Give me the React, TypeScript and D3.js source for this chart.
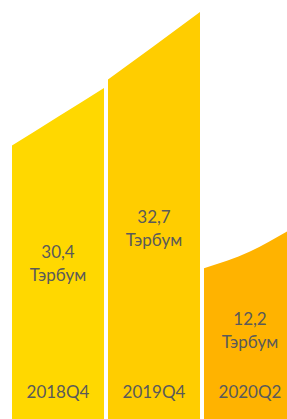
import { useEffect, useRef } from 'react';
import * as d3 from 'd3';

// quarters and their values (in trillion tugrik)
const categories = ['2018Q4', '2019Q4', '2020Q2'];
const values = [30.4, 32.7, 12.2];
const unit = 'Тэрбум';

// decorative top edge of each bar, in the same units as the y axis
const topStart = [26.1, 32.4, 14.4];
const topMid = [28.85, 35.6, 16.0];
const topEnd = [31.6, 38.85, 18.4];

const colors = ['#FFD800', '#FFCD00', '#FFB300'];

const App = () => {
  const svgRef = useRef<SVGSVGElement | null>(null);

  const width = 287;
  const height = 419;
  const labelY = 398;

  useEffect(() => {
    const svgEl = svgRef.current;
    if (!svgEl) return;
    const svg = d3.select(svgEl);
    svg.selectAll('*').remove();

    const x = d3.scaleBand<string>()
      .domain(categories)
      .range([12, 296])
      .paddingInner(4 / 96)
      .paddingOuter(0);

    const y = d3.scaleLinear().domain([0, 40]).range([height, 0]);

    const bw = x.bandwidth();

    categories.forEach((c, i) => {
      const x0 = x(c) ?? 0;
      const pts: [number, number][] = [
        [x0, y(topStart[i])],
        [x0 + bw / 2, y(topMid[i])],
        [x0 + bw, y(topEnd[i])],
      ];
      const top = d3.line().curve(d3.curveNatural)(pts) ?? '';
      const d = `${top}L${x0 + bw},${height}L${x0},${height}Z`;
      svg.append('path').attr('d', d).attr('fill', colors[i]);

      const cx = x0 + bw / 2;
      const mid = (y(topMid[i]) + labelY) / 2;

      const g = svg.append('g')
        .attr('text-anchor', 'middle')
        .attr('fill', '#5a5a5a')
        .style('font-family', 'Lato, sans-serif')
        .style('font-size', '17px');

      g.append('text')
        .attr('x', cx)
        .attr('y', mid + 0.5)
        .text(values[i].toFixed(1).replace('.', ','));
      g.append('text')
        .attr('x', cx)
        .attr('y', mid + 23.5)
        .text(unit);
      g.append('text')
        .attr('x', cx)
        .attr('y', labelY)
        .text(c);
    });
  }, []);

  return (
    <svg
      ref={svgRef}
      width={width}
      height={height}
      style={{ position: 'absolute', left: 0, top: 0, display: 'block' }}
    />
  );
};

export default App;
